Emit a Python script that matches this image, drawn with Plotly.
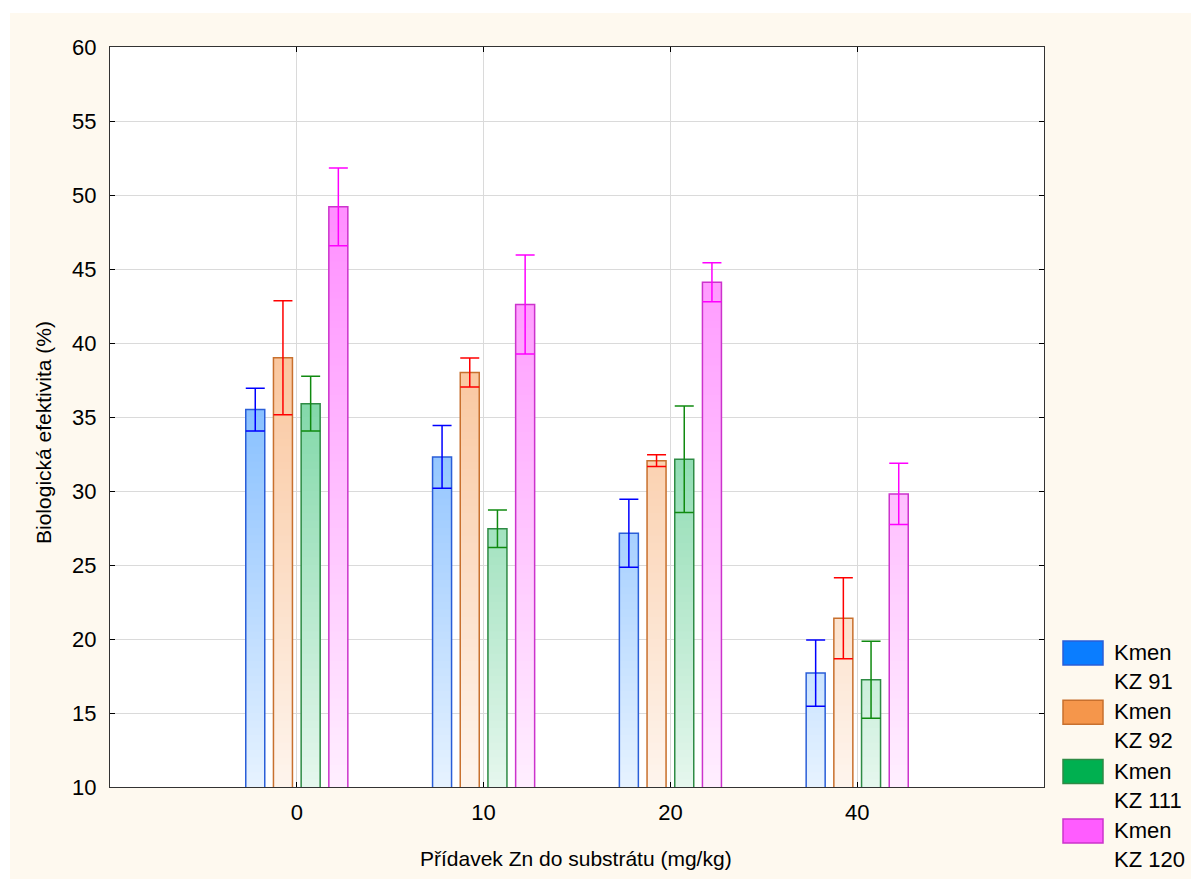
import plotly.graph_objects as go

# ---------------- data ----------------
categories = ["0", "10", "20", "40"]
series_names = ["Kmen<br>KZ 91", "Kmen<br>KZ 92", "Kmen<br>KZ 111", "Kmen<br>KZ 120"]
kz91 = [35.5, 32.3, 27.15, 17.7]
kz91_err = [1.45, 2.12, 2.3, 2.24]
kz92 = [39.0, 38.0, 32.05, 21.4]
kz92_err = [3.85, 0.98, 0.4, 2.74]
kz111 = [35.9, 27.45, 32.15, 17.25]
kz111_err = [1.85, 1.27, 3.6, 2.6]
kz120 = [49.2, 42.6, 44.1, 29.8]
kz120_err = [2.63, 3.35, 1.32, 2.07]
y_ticks = [10, 15, 20, 25, 30, 35, 40, 45, 50, 55, 60]
x_title = "Přídavek Zn do substrátu (mg/kg)"
y_title = "Biologická efektivita (%)"

values = [kz91, kz92, kz111, kz120]
errors = [kz91_err, kz92_err, kz111_err, kz120_err]

# ---------------- styles ----------------
base_colors = [(10, 125, 255), (245, 150, 75), (0, 176, 80), (255, 92, 255)]
outline_colors = ["#2a5ed8", "#c8702e", "#2e8b45", "#cc33cc"]
err_colors = ["#0000ff", "#ff0000", "#108a10", "#ff00ff"]
cream = "#fef9ef"
font_family = "Liberation Sans, Arial, sans-serif"

y_min, y_max = 10, 60
band = 0.5


def grad_color(rgb, yv):
    f = 0.1 + 0.75 * (yv - y_min) / (y_max - y_min)
    r, g, b = (round(255 - (255 - c) * f) for c in rgb)
    return f"rgb({r},{g},{b})"


fig = go.Figure()

for s, (vals, errs) in enumerate(zip(values, errors)):
    og = str(s)
    n_bands = int(round((y_max - y_min) / band))
    # tallest first, shorter bands drawn over them -> vertical gradient
    for k in range(n_bands, 0, -1):
        top = y_min + k * band
        bottom = top - band
        ys = [min(v, top) if v > bottom else None for v in vals]
        if all(y is None for y in ys):
            continue
        fig.add_trace(go.Bar(
            x=categories, y=ys, offsetgroup=og,
            marker=dict(color=grad_color(base_colors[s], (top + bottom) / 2),
                        line=dict(width=0)),
            showlegend=False, hoverinfo="skip",
        ))
    # outline + error bars
    fig.add_trace(go.Bar(
        x=categories, y=vals, offsetgroup=og, name=series_names[s].replace("<br>", " "),
        marker=dict(color="rgba(0,0,0,0)", line=dict(color=outline_colors[s], width=1.5)),
        error_y=dict(type="data", array=errs, visible=True, color=err_colors[s],
                     thickness=1.5, width=9.5),
        showlegend=False,
    ))

# ---------------- layout helpers (pixel -> paper) ----------------
L, T, W, H = 110, 47, 934, 740


def px_x(px):
    return (px - L) / W


def px_y(py):
    return (T + H - py) / H


shapes = []
annotations = []
for i, name in enumerate(series_names):
    top = 641 + 59.3 * i
    rgb = base_colors[i]
    shapes.append(dict(type="rect", xref="paper", yref="paper",
                       x0=px_x(1063), x1=px_x(1103), y0=px_y(top), y1=px_y(top + 24),
                       fillcolor=f"rgb{rgb}", line=dict(color=outline_colors[i], width=1.5)))
    annotations.append(dict(xref="paper", yref="paper", x=px_x(1112), y=px_y(top - 3),
                            xanchor="left", yanchor="top", align="left", showarrow=False,
                            text=name, font=dict(family=font_family, size=22, color="black")))

# axis titles
annotations.append(dict(xref="paper", yref="paper", x=px_x(576), y=px_y(858),
                        xanchor="center", yanchor="middle", showarrow=False, text=x_title,
                        font=dict(family=font_family, size=21, color="black")))
annotations.append(dict(xref="paper", yref="paper", x=px_x(43), y=px_y(433),
                        xanchor="center", yanchor="middle", showarrow=False, text=y_title,
                        textangle=-90, font=dict(family=font_family, size=21, color="black")))

# white page margin outside the cream panel (top and left strips)
shapes.append(dict(type="rect", xref="paper", yref="paper", layer="below",
                   x0=-0.3, x1=1.3, y0=px_y(13), y1=px_y(-5),
                   fillcolor="white", line=dict(width=0)))
shapes.append(dict(type="rect", xref="paper", yref="paper", layer="below",
                   x0=px_x(-5), x1=px_x(10), y0=-0.3, y1=1.3,
                   fillcolor="white", line=dict(width=0)))

axis_common = dict(
    showline=True, linecolor="#333333", linewidth=1, mirror="ticks",
    ticks="inside", ticklen=5, tickcolor="#000000", tickwidth=1,
    showgrid=True, gridcolor="#dadada", gridwidth=1.3, zeroline=False,
    tickfont=dict(family=font_family, size=22, color="black"),
)

fig.update_layout(
    width=1191, height=879,
    margin=dict(l=110, r=147, t=47, b=92, pad=0),
    paper_bgcolor=cream, plot_bgcolor="white",
    barmode="group", bargap=0.407, bargroupgap=0.314,
    font=dict(family=font_family, color="black"),
    shapes=shapes, annotations=annotations, showlegend=False,
    xaxis=dict(type="category", range=[-1, 4], categoryorder="array", categoryarray=categories,
               ticklabelstandoff=6, **axis_common),
    yaxis=dict(range=[y_min, y_max], tickvals=y_ticks,
               ticklabelstandoff=8, **axis_common),
)

fig.write_html(
    "out.html",
    config={"displayModeBar": False},
    post_script="document.body.style.margin='0';document.body.style.overflow='hidden';"
                "document.documentElement.style.overflow='hidden';",
)
